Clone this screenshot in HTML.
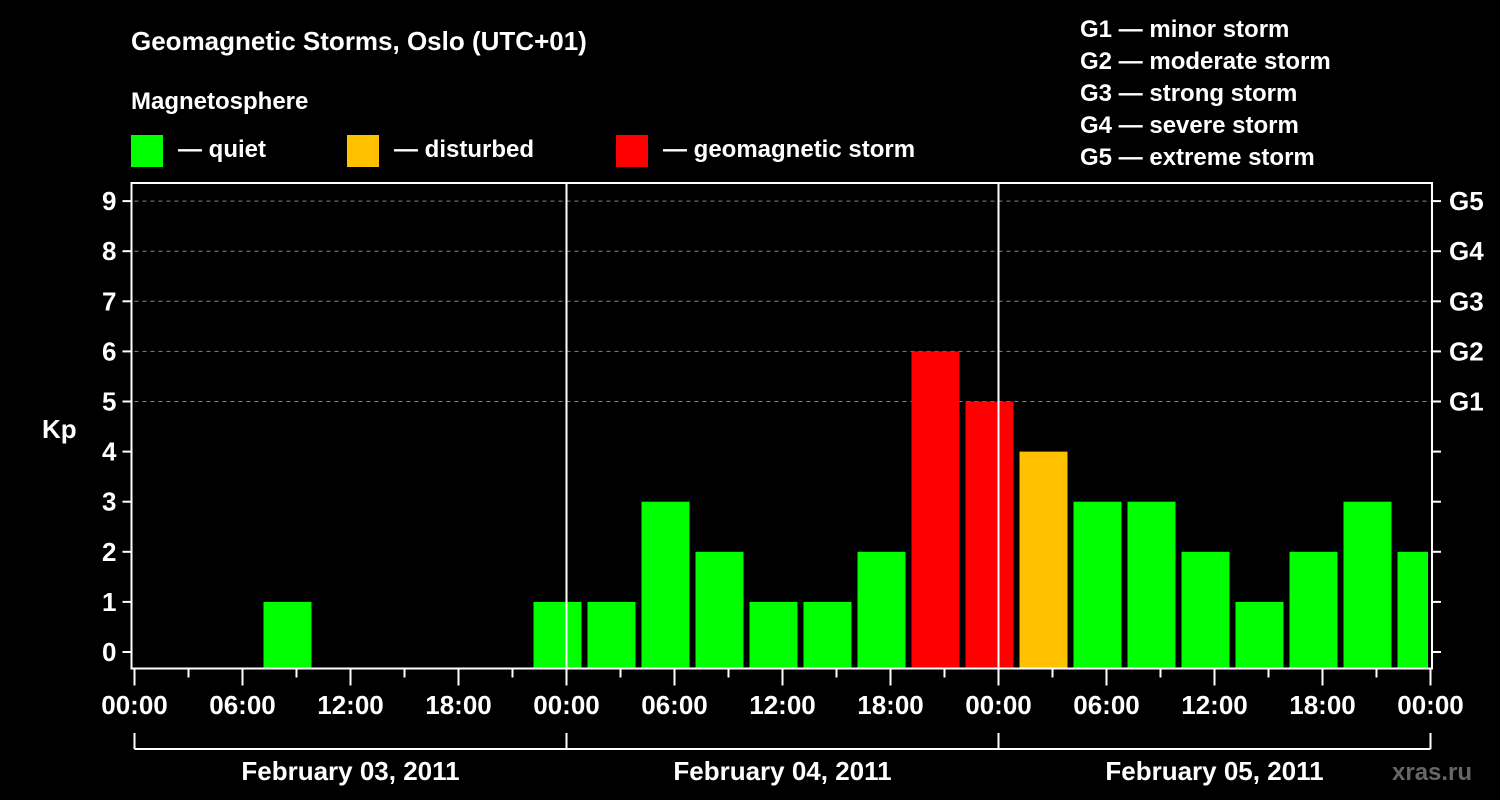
<!DOCTYPE html>
<html><head><meta charset="utf-8">
<style>
html,body{margin:0;padding:0;background:#000;}
svg{display:block;font-family:"Liberation Sans",Arial,sans-serif;font-weight:bold;}
</style></head>
<body>
<svg id="chart" width="1500" height="800" viewBox="0 0 1500 800">
<rect width="1500" height="800" fill="#000"/>
<text x="131" y="50" fill="#fff" font-size="26">Geomagnetic Storms, Oslo (UTC+01)</text>
<text x="131" y="109" fill="#fff" font-size="24">Magnetosphere</text>
<g>
<rect x="131" y="135" width="32" height="32" fill="#00ff00"/>
<text x="178" y="157" fill="#fff" font-size="24">— quiet</text></g>
<g>
<rect x="347" y="135" width="32" height="32" fill="#ffc000"/>
<text x="394" y="157" fill="#fff" font-size="24">— disturbed</text></g>
<g>
<rect x="616" y="135" width="32" height="32" fill="#ff0000"/>
<text x="663" y="157" fill="#fff" font-size="24">— geomagnetic storm</text></g>
<g fill="#fff" font-size="24">
<text x="1080" y="37">G1 — minor storm</text>
<text x="1080" y="69">G2 — moderate storm</text>
<text x="1080" y="101">G3 — strong storm</text>
<text x="1080" y="133">G4 — severe storm</text>
<text x="1080" y="165">G5 — extreme storm</text>
</g>
<text x="42" y="438" fill="#fff" font-size="26">Kp</text>
<text x="1392" y="780" fill="#666" font-size="24">xras.ru</text>
<g id="grid"></g>
<g id="bars"></g>
<g id="axes"></g>
</svg>
<script>
const kpValues = [0,0,1,0,0,0,0,1, 1,3,2,1,1,2,6,5, 4,3,3,2,1,2,3,2];
const dayLabels = ["February 03, 2011","February 04, 2011","February 05, 2011"];
const yTicks = [0,1,2,3,4,5,6,7,8,9];
const gLabels = ["G1","G2","G3","G4","G5"];
const timeLabels = ["00:00","06:00","12:00","18:00"];

const NS="http://www.w3.org/2000/svg";
const X0=134.5, PX_H=18, Y0=652, PX_KP=50.1, TOP=183, BOT=668.5, RIGHT=1432;
const xS=h=>X0+h*PX_H;
const yS=k=>Y0-k*PX_KP;
function mk(tag,attrs,parent){const e=document.createElementNS(NS,tag);for(const k in attrs)e.setAttribute(k,attrs[k]);document.getElementById(parent).appendChild(e);return e;}

// grid
for(let k=5;k<=9;k++){
  const l=mk('line',{x1:X0,x2:RIGHT,y1:yS(k),y2:yS(k),stroke:'#888','stroke-dasharray':'4,4','stroke-width':1},'grid');
  
  
}
// bars
kpValues.forEach((v,i)=>{
  if(v<=0) return;
  const c=xS(3*i+2.5);
  const x1=c-24, x2=Math.min(c+24,RIGHT-4);
  const col=v>=5?'#ff0000':(v>=4?'#ffc000':'#00ff00');
  const r=mk('rect',{x:x1,y:yS(v),width:x2-x1,height:BOT-yS(v),fill:col},'bars');
  
  
});
// axes frame
const fr=mk('path',{d:`M${X0-3},${TOP}H${RIGHT}V${BOT}H${X0-3}Z`,fill:'none',stroke:'#fff','stroke-width':2},'axes');


for(let d=1;d<3;d++){
  const l=mk('line',{x1:xS(24*d),x2:xS(24*d),y1:TOP,y2:BOT,stroke:'#fff','stroke-width':2},'axes');
  
  
}
yTicks.forEach(k=>{
  mk('line',{x1:X0-12,x2:X0-3,y1:yS(k),y2:yS(k),stroke:'#fff','stroke-width':2},'axes');
  mk('line',{x1:RIGHT,x2:RIGHT+9,y1:yS(k),y2:yS(k),stroke:'#fff','stroke-width':2},'axes');
  const t=mk('text',{x:X0-18,y:yS(k)+9,fill:'#fff','font-size':26,'text-anchor':'end'},'axes');
  t.textContent=k;
  
  
});
gLabels.forEach((g,i)=>{
  const t=mk('text',{x:RIGHT+17,y:yS(5+i)+9,fill:'#fff','font-size':26},'axes');
  t.textContent=g;
  
  
});
for(let h=0;h<=72;h+=3){
  const major=h%6===0;
  mk('line',{x1:xS(h),x2:xS(h),y1:BOT,y2:BOT+(major?17:9),stroke:'#fff','stroke-width':2},'axes');
  if(major){
    const t=mk('text',{x:xS(h),y:714,fill:'#fff','font-size':26,'text-anchor':'middle'},'axes');
    t.textContent=timeLabels[(h/6)%4];
    
    
  }
}
mk('line',{x1:xS(0),x2:xS(72),y1:749,y2:749,stroke:'#fff','stroke-width':2},'axes');
for(let d=0;d<=3;d++) mk('line',{x1:xS(24*d),x2:xS(24*d),y1:733,y2:749,stroke:'#fff','stroke-width':2},'axes');
dayLabels.forEach((s,d)=>{
  const t=mk('text',{x:xS(24*d+12),y:780,fill:'#fff','font-size':26,'text-anchor':'middle'},'axes');
  t.textContent=s;
  
  
});
</script>
</body></html>
